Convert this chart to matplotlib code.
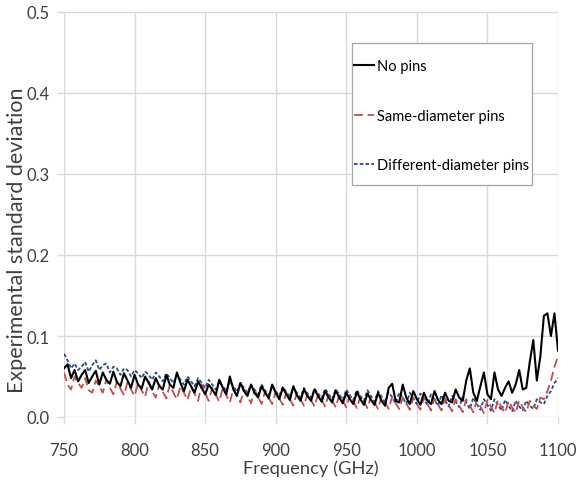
"""Experimental standard deviation vs frequency for three pin configurations."""

import matplotlib

matplotlib.use("Agg")

import matplotlib.pyplot as plt
import numpy as np
from matplotlib.patches import Rectangle

plt.rcParams["font.family"] = ["Lato", "DejaVu Sans"]

# measurement grid, 2.5 GHz step from 750 to 1100 GHz
FREQ_GHZ = np.linspace(750, 1100, 141)

NO_PINS = [
    0.060, 0.065, 0.048, 0.058, 0.044, 0.052, 0.058, 0.042, 0.050, 0.057,
    0.040, 0.055, 0.046, 0.041, 0.056, 0.043, 0.038, 0.054, 0.045, 0.036,
    0.052, 0.040, 0.035, 0.050, 0.042, 0.034, 0.048, 0.038, 0.034, 0.052,
    0.040, 0.036, 0.055, 0.042, 0.032, 0.046, 0.038, 0.030, 0.044, 0.036,
    0.028, 0.040, 0.034, 0.027, 0.046, 0.036, 0.028, 0.050, 0.034, 0.026,
    0.042, 0.032, 0.026, 0.040, 0.030, 0.024, 0.038, 0.030, 0.023, 0.040,
    0.030, 0.022, 0.036, 0.028, 0.021, 0.038, 0.027, 0.020, 0.034, 0.026,
    0.020, 0.034, 0.026, 0.019, 0.032, 0.024, 0.018, 0.033, 0.024, 0.017,
    0.030, 0.022, 0.016, 0.031, 0.022, 0.015, 0.029, 0.021, 0.015, 0.030,
    0.020, 0.014, 0.036, 0.041, 0.020, 0.018, 0.040, 0.024, 0.016, 0.032,
    0.022, 0.015, 0.030, 0.020, 0.016, 0.032, 0.021, 0.016, 0.030, 0.020,
    0.018, 0.034, 0.024, 0.020, 0.045, 0.060, 0.030, 0.020, 0.038, 0.055,
    0.028, 0.022, 0.055, 0.034, 0.026, 0.036, 0.044, 0.030, 0.040, 0.058,
    0.034, 0.036, 0.068, 0.095, 0.045, 0.075, 0.125, 0.128, 0.100, 0.128,
    0.082,
]

SAME_DIAMETER = [
    0.055, 0.040, 0.034, 0.050, 0.042, 0.036, 0.048, 0.033, 0.030, 0.045,
    0.038, 0.030, 0.046, 0.036, 0.028, 0.044, 0.035, 0.027, 0.043, 0.034,
    0.026, 0.042, 0.033, 0.025, 0.044, 0.032, 0.024, 0.040, 0.031, 0.023,
    0.040, 0.030, 0.022, 0.038, 0.030, 0.021, 0.037, 0.029, 0.020, 0.040,
    0.030, 0.020, 0.036, 0.028, 0.019, 0.036, 0.027, 0.018, 0.035, 0.026,
    0.018, 0.034, 0.026, 0.017, 0.033, 0.025, 0.016, 0.032, 0.024, 0.016,
    0.031, 0.023, 0.015, 0.030, 0.022, 0.014, 0.030, 0.022, 0.014, 0.029,
    0.021, 0.013, 0.028, 0.021, 0.013, 0.028, 0.020, 0.012, 0.027, 0.020,
    0.012, 0.027, 0.019, 0.011, 0.026, 0.019, 0.011, 0.026, 0.018, 0.010,
    0.025, 0.018, 0.010, 0.025, 0.017, 0.010, 0.024, 0.017, 0.009, 0.024,
    0.016, 0.009, 0.024, 0.016, 0.008, 0.023, 0.015, 0.008, 0.023, 0.015,
    0.007, 0.022, 0.014, 0.006, 0.022, 0.014, 0.006, 0.021, 0.013, 0.005,
    0.021, 0.013, 0.005, 0.021, 0.012, 0.005, 0.020, 0.012, 0.005, 0.020,
    0.012, 0.006, 0.020, 0.014, 0.010, 0.024, 0.022, 0.032, 0.045, 0.062,
    0.075,
]

DIFFERENT_DIAMETER = [
    0.078, 0.070, 0.060, 0.066, 0.058, 0.062, 0.068, 0.056, 0.064, 0.070,
    0.058, 0.064, 0.066, 0.055, 0.062, 0.060, 0.052, 0.060, 0.058, 0.050,
    0.058, 0.054, 0.048, 0.056, 0.052, 0.046, 0.055, 0.050, 0.044, 0.054,
    0.048, 0.042, 0.052, 0.046, 0.040, 0.050, 0.044, 0.038, 0.048, 0.042,
    0.036, 0.046, 0.040, 0.034, 0.044, 0.038, 0.032, 0.044, 0.038, 0.031,
    0.042, 0.036, 0.030, 0.040, 0.034, 0.028, 0.040, 0.033, 0.027, 0.038,
    0.032, 0.026, 0.037, 0.031, 0.025, 0.036, 0.030, 0.024, 0.036, 0.029,
    0.024, 0.035, 0.029, 0.023, 0.035, 0.028, 0.022, 0.034, 0.028, 0.021,
    0.034, 0.027, 0.021, 0.033, 0.026, 0.020, 0.033, 0.026, 0.019, 0.032,
    0.025, 0.018, 0.031, 0.024, 0.017, 0.030, 0.024, 0.016, 0.030, 0.023,
    0.016, 0.029, 0.022, 0.015, 0.028, 0.021, 0.014, 0.027, 0.020, 0.013,
    0.026, 0.019, 0.012, 0.025, 0.018, 0.010, 0.024, 0.016, 0.009, 0.022,
    0.015, 0.008, 0.022, 0.015, 0.008, 0.021, 0.014, 0.007, 0.020, 0.013,
    0.008, 0.020, 0.014, 0.010, 0.022, 0.018, 0.016, 0.026, 0.032, 0.042,
    0.048,
]

SERIES_LABELS = ["No pins", "Same-diameter pins", "Different-diameter pins"]
Y_TICKS = [0.0, 0.1, 0.2, 0.3, 0.4, 0.5]
X_TICKS = [750, 800, 850, 900, 950, 1000, 1050, 1100]

GRID_COLOR = "#d9d9d9"
TEXT_COLOR = "#404040"

figure = plt.figure(figsize=(5.76, 4.85), dpi=100)
axes = figure.add_axes([64 / 576, 1 - 418 / 485, 494 / 576, 405 / 485])

line_diff, = axes.plot(
    FREQ_GHZ, DIFFERENT_DIAMETER, color="#2e4a86", linewidth=1.3,
    linestyle=(0, (2, 1.2)), zorder=3,
)
line_same, = axes.plot(
    FREQ_GHZ, SAME_DIAMETER, color="#c0504d", linewidth=1.3,
    linestyle=(0, (5, 2.5)), zorder=4,
)
line_none, = axes.plot(
    FREQ_GHZ, NO_PINS, color="black", linewidth=1.5, zorder=5,
)

axes.set_xlim(750, 1100)
axes.set_ylim(0, 0.5)
axes.set_xticks(X_TICKS)
axes.set_yticks(Y_TICKS)
axes.set_yticklabels([f"{v:.1f}" for v in Y_TICKS])
axes.grid(True, color=GRID_COLOR, linewidth=1.0)
axes.set_axisbelow(True)
for spine in axes.spines.values():
    spine.set_visible(False)
axes.tick_params(
    axis="both", length=5, width=1.0, color=GRID_COLOR,
    labelcolor=TEXT_COLOR, labelsize=12,
)
axes.tick_params(axis="x", pad=13)
axes.tick_params(axis="y", pad=5)

axes.set_xlabel("Frequency (GHz)", fontsize=13.2, color=TEXT_COLOR)
axes.xaxis.set_label_coords(0.5, -(460 - 418) / 405)
axes.set_ylabel(
    "Experimental standard deviation", fontsize=15.5, color=TEXT_COLOR,
)
axes.yaxis.set_label_coords(-(64 - 27) / 494, (418 - 240) / 405)

# legend box drawn separately so its size follows the reference
figure.patches.append(
    Rectangle(
        (352 / 576, 1 - 186 / 485), 180 / 576, 142 / 485,
        transform=figure.transFigure, facecolor="white",
        edgecolor="#a6a6a6", linewidth=0.9, zorder=6,
    )
)
legend = figure.legend(
    [line_none, line_same, line_diff],
    SERIES_LABELS,
    loc="upper left",
    bbox_to_anchor=(354 / 576, 1 - 60 / 485),
    frameon=False,
    fontsize=10.5,
    labelspacing=2.45,
    handlelength=1.4,
    handletextpad=0.15,
    borderpad=0,
    borderaxespad=0,
)
legend.set_zorder(7)
for text in legend.get_texts():
    text.set_color("black")

figure.savefig("out.png", dpi=100)
